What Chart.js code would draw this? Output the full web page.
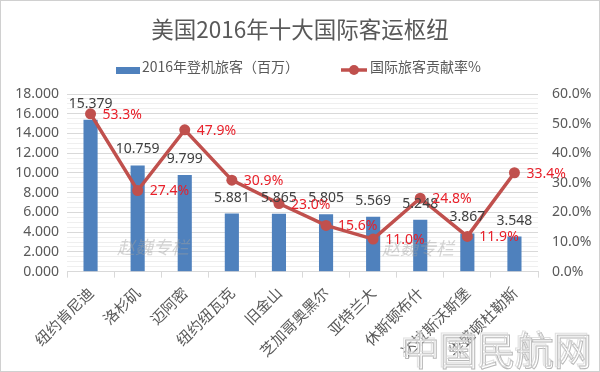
<!DOCTYPE html>
<html>
<head>
<meta charset="utf-8">
<script src="https://cdn.jsdelivr.net/npm/chart.js@4/dist/chart.umd.min.js"></script>
<style>
  html, body { margin: 0; padding: 0; background: #fff; }
  #wrap { width: 600px; height: 372px; }
</style>
</head>
<body>
<div id="wrap"><canvas id="hubChart" width="600" height="372"></canvas></div>
<script>
// Data
const cities = ["纽约肯尼迪", "洛杉矶", "迈阿密", "纽约纽瓦克", "旧金山",
                "芝加哥奥黑尔", "亚特兰大", "休斯顿布什", "达拉斯沃斯堡", "华盛顿杜勒斯"];
const passengers = [15.379, 10.759, 9.799, 5.881, 5.865, 5.805, 5.569, 5.248, 3.867, 3.548];
const intlShare = [53.3, 27.4, 47.9, 30.9, 23.0, 15.6, 11.0, 24.8, 11.9, 33.4];

const leftMax = 18;
const rightMax = 60;

const titleText = "美国2016年十大国际客运枢纽";
const barLabel = "2016年登机旅客（百万）";
const lineLabel = "国际旅客贡献率%";

const FONT = "'Noto Sans', 'Noto Sans CJK SC', sans-serif";
const CJK = "'Noto Sans CJK SC', sans-serif";
const BLUE = "#4f81bd";
const RED = "#c0504d";

// Title, legend, data labels and watermarks
const decor = {
    id: "decor",
    beforeDraw(chart) {
        const ctx = chart.ctx;
        ctx.save();
        ctx.fillStyle = "#fff";
        ctx.fillRect(0, 0, chart.width, chart.height);
        ctx.restore();
    },
    afterDatasetsDraw(chart) {
        const ctx = chart.ctx;
        ctx.save();

        // watermarks
        ctx.font = "italic 18px " + CJK;
        ctx.fillStyle = "rgba(160,160,160,0.45)";
        ctx.textAlign = "left";
        ctx.textBaseline = "middle";
        ctx.fillText("赵巍专栏", 117, 247);
        ctx.fillText("赵巍专栏", 382, 248);

        // bar values
        const bars = chart.getDatasetMeta(0).data;
        ctx.font = "14px " + FONT;
        ctx.fillStyle = "#404040";
        ctx.textAlign = "center";
        bars.forEach((b, i) => {
            ctx.fillText(passengers[i].toFixed(3), b.x, b.y - 16);
        });

        // percentage labels
        const pts = chart.getDatasetMeta(1).data;
        ctx.fillStyle = "#e8202a";
        ctx.textAlign = "left";
        pts.forEach((p, i) => {
            ctx.fillText(intlShare[i].toFixed(1) + "%", p.x + 12, p.y + 1);
        });
        ctx.restore();
    },
    afterDraw(chart) {
        const ctx = chart.ctx;
        ctx.save();

        // title
        ctx.font = "22.5px " + CJK;
        ctx.fillStyle = "#595959";
        ctx.textAlign = "center";
        ctx.textBaseline = "middle";
        ctx.fillText(titleText, 300, 29);

        // legend
        ctx.font = "14px " + CJK;
        ctx.textAlign = "left";
        ctx.fillStyle = BLUE;
        ctx.fillRect(116, 67, 24, 7);
        ctx.fillStyle = "#595959";
        ctx.fillText(barLabel, 142, 67);

        ctx.strokeStyle = RED;
        ctx.lineWidth = 3.5;
        ctx.beginPath();
        ctx.moveTo(341, 70);
        ctx.lineTo(367, 70);
        ctx.stroke();
        ctx.fillStyle = RED;
        ctx.beginPath();
        ctx.arc(354, 70, 5, 0, Math.PI * 2);
        ctx.fill();
        ctx.fillStyle = "#595959";
        ctx.fillText(lineLabel, 370, 67);

        // embossed site mark
        ctx.font = "38px " + CJK;
        ctx.textAlign = "left";
        ctx.textBaseline = "alphabetic";
        ctx.fillStyle = "rgba(255,255,255,0.85)";
        ctx.fillText("中国民航网", 401, 364);
        ctx.strokeStyle = "rgba(170,170,170,0.85)";
        ctx.lineWidth = 1;
        ctx.strokeText("中国民航网", 402, 365);
        ctx.strokeStyle = "rgba(215,215,215,0.8)";
        ctx.strokeText("中国民航网", 400, 363);

        // frame
        ctx.strokeStyle = "#d0d0d0";
        ctx.lineWidth = 1;
        ctx.strokeRect(0.5, 0.5, chart.width - 1, chart.height - 1);
        ctx.restore();
    }
};

new Chart(document.getElementById("hubChart"), {
    type: "bar",
    data: {
        labels: cities,
        datasets: [
            {
                label: barLabel,
                data: passengers,
                backgroundColor: BLUE,
                barPercentage: 0.3,
                categoryPercentage: 1.0,
                yAxisID: "y",
                order: 1
            },
            {
                type: "line",
                label: lineLabel,
                data: intlShare,
                borderColor: RED,
                borderWidth: 3.5,
                pointRadius: 5.5,
                pointBackgroundColor: RED,
                pointBorderWidth: 0,
                tension: 0,
                yAxisID: "y1",
                order: 0
            }
        ]
    },
    options: {
        responsive: false,
        animation: false,
        devicePixelRatio: 1,
        layout: { padding: { top: 94, left: 8, right: 6, bottom: 6 } },
        plugins: {
            legend: { display: false },
            title: { display: false },
            tooltip: { enabled: false }
        },
        scales: {
            x: {
                offset: true,
                grid: { drawOnChartArea: false, tickLength: 6, color: "#d9d9d9", offset: true },
                border: { color: "#d9d9d9" },
                ticks: {
                    minRotation: 45,
                    maxRotation: 45,
                    autoSkip: false,
                    padding: 6,
                    color: "#595959",
                    font: { size: 15, family: CJK }
                }
            },
            y: {
                position: "left",
                min: 0,
                max: leftMax,
                border: { display: false },
                afterFit: (s) => { s.width = 59; },
                grid: {
                    drawTicks: false,
                    color: (c) => (c.tick && c.tick.value % 2 === 0) ? "#d9d9d9" : "#efefef"
                },
                ticks: {
                    stepSize: 0.5,
                    autoSkip: false,
                    padding: 8,
                    color: "#595959",
                    font: { size: 14, family: FONT },
                    callback: (v) => (v % 2 === 0) ? v.toFixed(3) : ""
                }
            },
            y1: {
                position: "right",
                min: 0,
                max: rightMax,
                border: { display: false },
                afterFit: (s) => { s.width = 56; },
                grid: { drawOnChartArea: false, drawTicks: false },
                ticks: {
                    stepSize: 10,
                    padding: 14,
                    color: "#595959",
                    font: { size: 14, family: FONT },
                    callback: (v) => v.toFixed(1) + "%"
                }
            }
        }
    },
    plugins: [decor]
});
</script>
</body>
</html>
